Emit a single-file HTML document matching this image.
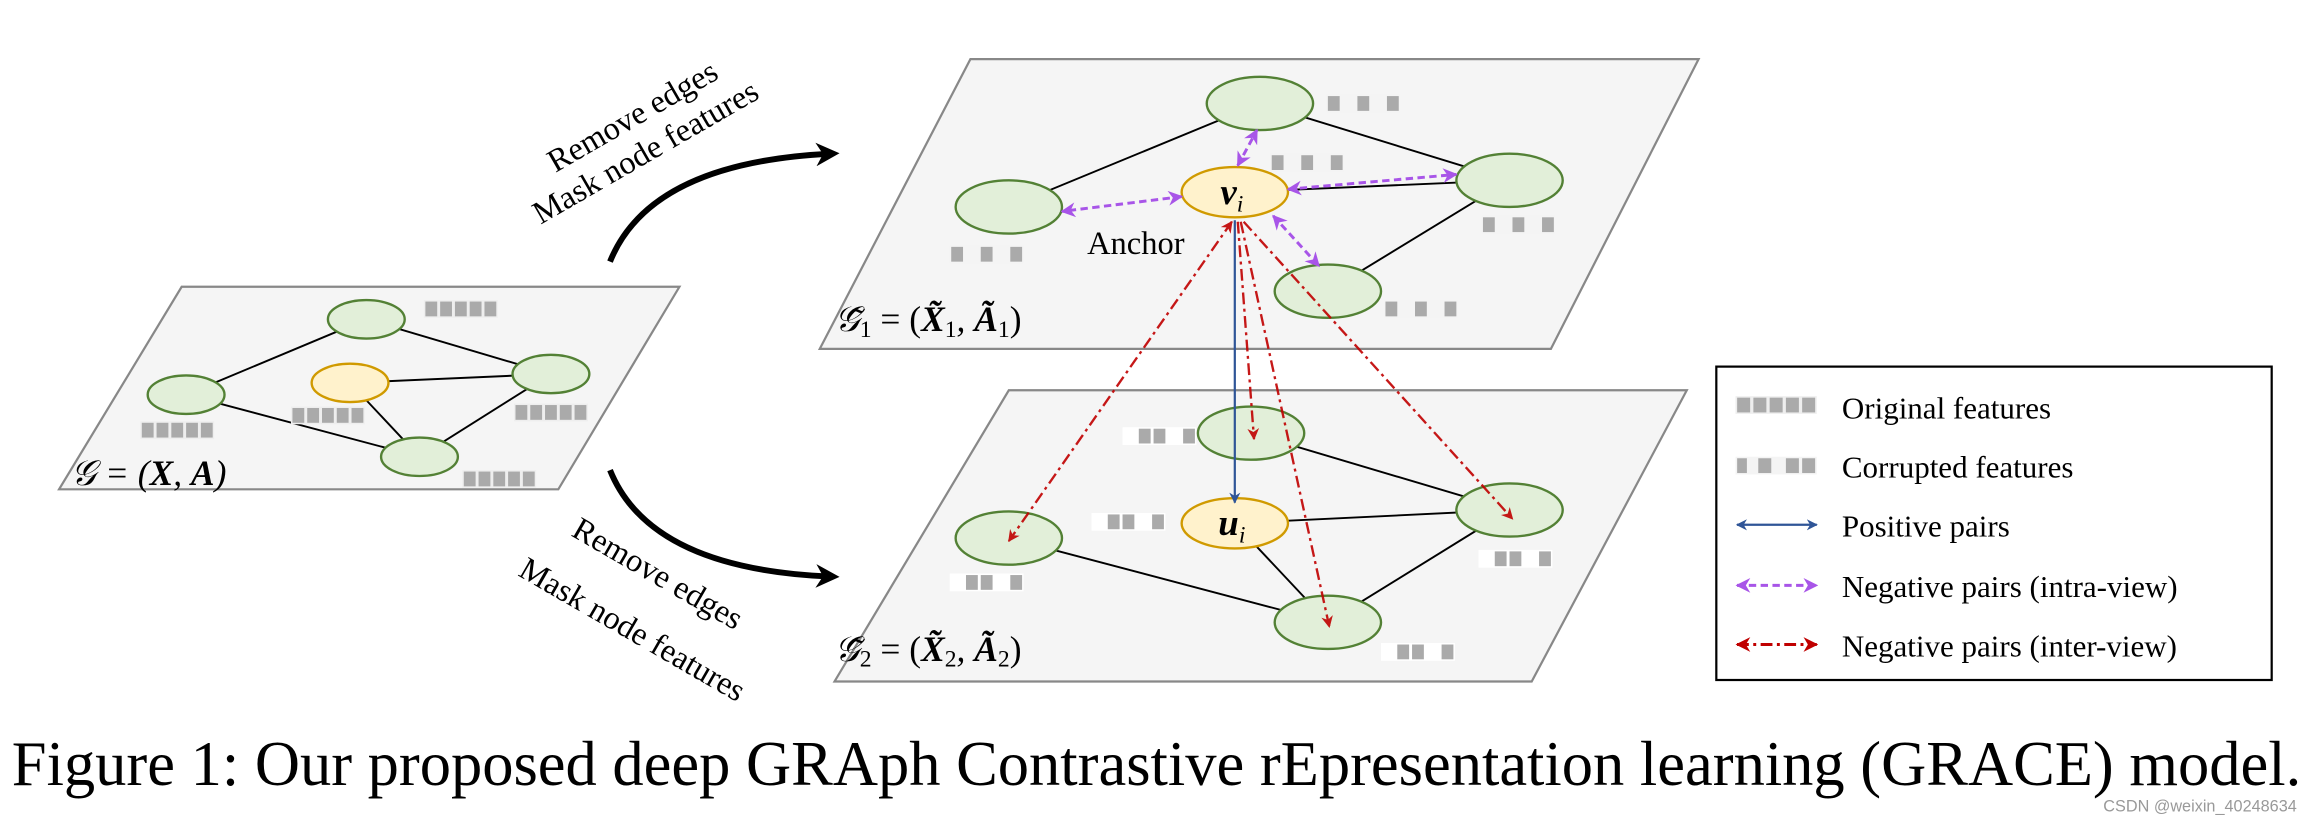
<!DOCTYPE html>
<html><head><meta charset="utf-8"><style>
html,body{margin:0;padding:0;background:#fff;}
svg{display:block;}
text{font-family:"Liberation Serif",serif;}
</style></head><body>
<svg width="2316" height="816" viewBox="0 0 1568 552" preserveAspectRatio="none" xmlns="http://www.w3.org/2000/svg">
<defs>
<marker id="ab" viewBox="0 0 10 10" refX="9" refY="5" markerWidth="5" markerHeight="5" orient="auto-start-reverse"><path d="M0,0 L10,5 L0,10 L3,5 z" fill="#2f5597"/></marker>
<marker id="ap" viewBox="0 0 10 10" refX="9" refY="5" markerWidth="5" markerHeight="5" orient="auto-start-reverse"><path d="M0,0 L10,5 L0,10 L3,5 z" fill="#a855e8"/></marker>
<marker id="ar" viewBox="0 0 10 10" refX="9" refY="5" markerWidth="5" markerHeight="5" orient="auto-start-reverse"><path d="M0,0 L10,5 L0,10 L3,5 z" fill="#c00000"/></marker>
<marker id="ak" viewBox="0 0 10 10" refX="6" refY="5" markerWidth="4" markerHeight="4" orient="auto"><path d="M0,0 L10,5 L0,10 L3,5 z" fill="#000"/></marker>
<g id="fo"><rect x="0" y="0" width="50" height="12" fill="#eee"/><rect x="1" y="1" width="8" height="10" fill="#aaa"/><rect x="11" y="1" width="8" height="10" fill="#aaa"/><rect x="21" y="1" width="8" height="10" fill="#aaa"/><rect x="31" y="1" width="8" height="10" fill="#aaa"/><rect x="41" y="1" width="8" height="10" fill="#aaa"/></g>
<g id="fc"><rect x="0" y="0" width="50" height="12" fill="#f4f4f4"/><rect x="1" y="1" width="8" height="10" fill="#aaa"/><rect x="21" y="1" width="8" height="10" fill="#aaa"/><rect x="41" y="1" width="8" height="10" fill="#aaa"/></g>
<g id="fc2"><rect x="0" y="0" width="50" height="12" fill="#fff"/><rect x="11" y="1" width="8" height="10" fill="#aaa"/><rect x="21" y="1" width="8" height="10" fill="#aaa"/><rect x="41" y="1" width="8" height="10" fill="#aaa"/></g>
</defs>

<!-- Left plane -->
<polygon points="123,194 460,194 378,331 40,331" fill="#f5f5f5" stroke="#888" stroke-width="1.5"/>
<g stroke="#000" stroke-width="1.3">
<line x1="248" y1="216" x2="126" y2="267"/><line x1="248" y1="216" x2="373" y2="253"/>
<line x1="126" y1="267" x2="284" y2="309"/><line x1="237" y1="259" x2="373" y2="253"/>
<line x1="237" y1="259" x2="284" y2="309"/><line x1="373" y1="253" x2="284" y2="309"/>
</g>
<g stroke-width="1.6">
<ellipse cx="248" cy="216" rx="26" ry="13" fill="#e2efd9" stroke="#538135"/>
<ellipse cx="126" cy="267" rx="26" ry="13" fill="#e2efd9" stroke="#538135"/>
<ellipse cx="237" cy="259" rx="26" ry="13" fill="#fff2cc" stroke="#d09a00"/>
<ellipse cx="373" cy="253" rx="26" ry="13" fill="#e2efd9" stroke="#538135"/>
<ellipse cx="284" cy="309" rx="26" ry="13" fill="#e2efd9" stroke="#538135"/>
</g>
<use href="#fo" x="287" y="203"/><use href="#fo" x="95" y="285"/><use href="#fo" x="197" y="275"/><use href="#fo" x="348" y="273"/><use href="#fo" x="313" y="318"/>
<text x="48" y="328" font-size="24" font-style="italic">𝒢 = (<tspan font-weight="bold">X</tspan>, <tspan font-weight="bold">A</tspan>)</text>

<!-- Curved arrows -->
<path d="M413,177 Q440,110 562,104" fill="none" stroke="#000" stroke-width="4" marker-end="url(#ak)"/>
<path d="M413,318 Q440,385 562,390" fill="none" stroke="#000" stroke-width="4" marker-end="url(#ak)"/>
<text font-size="22" transform="translate(376,117) rotate(-30)">Remove edges</text>
<text font-size="22" transform="translate(366,152) rotate(-30)">Mask node features</text>
<text font-size="22" transform="translate(386,362) rotate(30)">Remove edges</text>
<text font-size="22" transform="translate(350,389) rotate(30)">Mask node features</text>

<!-- Top plane -->
<polygon points="657,40 1150,40 1050,236 555,236" fill="#f5f5f5" stroke="#888" stroke-width="1.5"/>
<g stroke="#000" stroke-width="1.3">
<line x1="683" y1="140" x2="853" y2="70"/><line x1="853" y1="70" x2="1022" y2="122"/>
<line x1="836" y1="130" x2="1022" y2="122"/><line x1="1022" y1="122" x2="899" y2="197"/>
</g>
<g stroke-width="1.6">
<ellipse cx="853" cy="70" rx="36" ry="18" fill="#e2efd9" stroke="#538135"/>
<ellipse cx="683" cy="140" rx="36" ry="18" fill="#e2efd9" stroke="#538135"/>
<ellipse cx="1022" cy="122" rx="36" ry="18" fill="#e2efd9" stroke="#538135"/>
<ellipse cx="899" cy="197" rx="36" ry="18" fill="#e2efd9" stroke="#538135"/>
<ellipse cx="836" cy="130" rx="36" ry="17" fill="#fff2cc" stroke="#d09a00"/>
</g>
<g stroke="#a855e8" stroke-width="2" stroke-dasharray="5,3" fill="none">
<line x1="838" y1="112" x2="851" y2="88" marker-start="url(#ap)" marker-end="url(#ap)"/>
<line x1="800" y1="133" x2="719" y2="143" marker-start="url(#ap)" marker-end="url(#ap)"/>
<line x1="872" y1="128" x2="986" y2="118" marker-start="url(#ap)" marker-end="url(#ap)"/>
<line x1="862" y1="146" x2="893" y2="180" marker-start="url(#ap)" marker-end="url(#ap)"/>
</g>
<text x="834" y="138" font-size="25" font-weight="bold" font-style="italic" text-anchor="middle">v<tspan font-size="16" font-weight="normal" dy="5">i</tspan></text>
<use href="#fc" x="898" y="64"/><use href="#fc" x="860" y="104"/><use href="#fc" x="643" y="166"/><use href="#fc" x="1003" y="146"/><use href="#fc" x="937" y="203"/>
<text x="736" y="172" font-size="22">Anchor</text>
<text x="565" y="224" font-size="24" font-style="italic">𝒢̃<tspan font-size="16" font-style="normal" dy="4">1</tspan><tspan dy="-4" font-style="normal"> = (</tspan><tspan font-weight="bold">X̃</tspan><tspan font-size="16" font-style="normal" dy="4">1</tspan><tspan dy="-4">, </tspan><tspan font-weight="bold">Ã</tspan><tspan font-size="16" font-style="normal" dy="4">1</tspan><tspan dy="-4" font-style="normal">)</tspan></text>

<!-- Bottom plane -->
<polygon points="683,264 1142,264 1037,461 565,461" fill="#f5f5f5" stroke="#888" stroke-width="1.5"/>
<g stroke="#000" stroke-width="1.3">
<line x1="847" y1="293" x2="1022" y2="345"/><line x1="836" y1="354" x2="1022" y2="345"/>
<line x1="836" y1="354" x2="899" y2="421"/><line x1="683" y1="364" x2="899" y2="421"/>
<line x1="1022" y1="345" x2="899" y2="421"/>
</g>
<g stroke-width="1.6">
<ellipse cx="847" cy="293" rx="36" ry="18" fill="#e2efd9" stroke="#538135"/>
<ellipse cx="683" cy="364" rx="36" ry="18" fill="#e2efd9" stroke="#538135"/>
<ellipse cx="1022" cy="345" rx="36" ry="18" fill="#e2efd9" stroke="#538135"/>
<ellipse cx="899" cy="421" rx="36" ry="18" fill="#e2efd9" stroke="#538135"/>
<ellipse cx="836" cy="354" rx="36" ry="17" fill="#fff2cc" stroke="#d09a00"/>
</g>
<text x="834" y="362" font-size="25" font-weight="bold" font-style="italic" text-anchor="middle">u<tspan font-size="16" font-weight="normal" dy="5">i</tspan></text>
<use href="#fc2" x="760" y="289"/><use href="#fc2" x="739" y="347"/><use href="#fc2" x="643" y="388"/><use href="#fc2" x="1001" y="372"/><use href="#fc2" x="935" y="435"/>
<text x="565" y="447" font-size="24" font-style="italic">𝒢̃<tspan font-size="16" font-style="normal" dy="4">2</tspan><tspan dy="-4" font-style="normal"> = (</tspan><tspan font-weight="bold">X̃</tspan><tspan font-size="16" font-style="normal" dy="4">2</tspan><tspan dy="-4">, </tspan><tspan font-weight="bold">Ã</tspan><tspan font-size="16" font-style="normal" dy="4">2</tspan><tspan dy="-4" font-style="normal">)</tspan></text>

<!-- Inter-view connectors -->
<line x1="836" y1="149" x2="836" y2="340" stroke="#2f5597" stroke-width="1.5" marker-end="url(#ab)"/>
<g stroke="#c00000" stroke-width="1.6" stroke-dasharray="8,3,2,3" fill="none" opacity="0.9">
<line x1="834" y1="150" x2="683" y2="366" marker-start="url(#ar)" marker-end="url(#ar)"/>
<line x1="838" y1="150" x2="849" y2="297" marker-end="url(#ar)"/>
<line x1="840" y1="150" x2="900" y2="424" marker-end="url(#ar)"/>
<line x1="842" y1="150" x2="1024" y2="351" marker-end="url(#ar)"/>
</g>

<!-- Legend -->
<rect x="1162" y="248" width="376" height="212" fill="#fff" stroke="#000" stroke-width="1.5"/>
<g transform="translate(1175,268) scale(1.1,1)"><use href="#fo"/></g>
<g transform="translate(1175,309) scale(1.1,1)"><rect x="0" y="0" width="50" height="12" fill="#f4f4f4"/><rect x="1" y="1" width="6" height="10" fill="#aaa"/><rect x="14" y="1" width="8" height="10" fill="#aaa"/><rect x="31" y="1" width="8" height="10" fill="#aaa"/><rect x="41" y="1" width="8" height="10" fill="#aaa"/></g>
<line x1="1176" y1="355" x2="1230" y2="355" stroke="#2f5597" stroke-width="1.5" marker-start="url(#ab)" marker-end="url(#ab)"/>
<line x1="1176" y1="396" x2="1230" y2="396" stroke="#a855e8" stroke-width="2" stroke-dasharray="5,3" marker-start="url(#ap)" marker-end="url(#ap)"/>
<line x1="1176" y1="436" x2="1230" y2="436" stroke="#c00000" stroke-width="2" stroke-dasharray="8,3,2,3" marker-start="url(#ar)" marker-end="url(#ar)"/>
<g font-size="21">
<text x="1247" y="283">Original features</text>
<text x="1247" y="323">Corrupted features</text>
<text x="1247" y="363">Positive pairs</text>
<text x="1247" y="404">Negative pairs (intra-view)</text>
<text x="1247" y="444">Negative pairs (inter-view)</text>
</g>

<!-- Caption -->
<text x="8" y="531" font-size="43" textLength="1550" lengthAdjust="spacingAndGlyphs">Figure 1: Our proposed deep GRAph Contrastive rEpresentation learning (GRACE) model.</text>
<text x="1555" y="549" font-size="11" fill="#999" text-anchor="end" style="font-family:'Liberation Sans',sans-serif">CSDN @weixin_40248634</text>
</svg>
</body></html>
